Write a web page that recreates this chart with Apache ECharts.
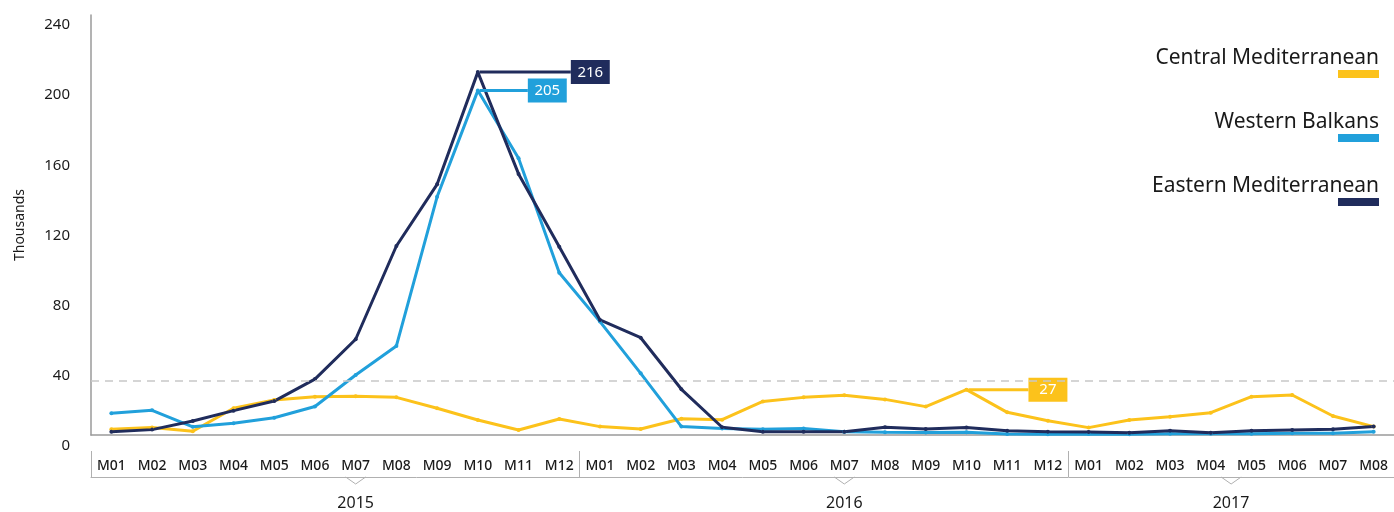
<!DOCTYPE html>
<html>
<head>
<meta charset="utf-8">
<script src="https://cdn.jsdelivr.net/npm/echarts@6/dist/echarts.min.js"></script>
<style>
  html, body { margin: 0; padding: 0; background: #fff; }
  #chart { width: 1394px; height: 512px; }
</style>
</head>
<body>
<div id="chart"></div>
<script>
// categories
var years = ['2015', '2016', '2017']
var monthsPerYear = [12, 12, 8]
var yTickLabels = [0, 40, 80, 120, 160, 200, 240]

// values, thousands
var centralMed = [3.4, 4.4, 2.2, 15.9, 20.8, 22.8, 23, 22.4, 15.9, 8.9, 3.0, 9.5,
  5.0, 3.6, 9.7, 9.1, 20.0, 22.4, 23.6, 21.2, 16.9, 27, 13.5, 8.5,
  4.4, 8.9, 10.9, 13.3, 22.8, 23.8, 11.3, 5.0]
var westernBalkans = [12.9, 14.7, 4.9, 7.0, 10.3, 17, 35.7, 53, 141.8, 205, 164.7, 96.6,
  67.5, 36.7, 5.0, 3.8, 3.4, 3.8, 2.0, 1.6, 1.5, 1.6, 0.6, 0.5,
  0.6, 0.4, 0.8, 0.8, 0.8, 1.0, 1.0, 2.0]
var easternMed = [2.0, 3.2, 8.3, 14.5, 20.2, 33.3, 57, 112.5, 149.2, 216, 155.4, 112,
  68.5, 57.9, 27.2, 4.6, 2.0, 2.0, 2.0, 4.6, 3.6, 4.4, 2.6, 2.0,
  1.8, 1.4, 2.6, 1.4, 2.6, 3.0, 3.4, 5.0]
var refLine = 32

var months = []
var yearOf = []
var yearStart = []
years.forEach(function (y, k) {
  yearStart.push(months.length)
  for (var m = 1; m <= monthsPerYear[k]; m++) {
    months.push('M' + (m < 10 ? '0' : '') + m)
    yearOf.push(y)
  }
})

var colors = ['#fcc21b', '#21a0db', '#202c5c']
var names = ['Central Mediterranean', 'Western Balkans', 'Eastern Mediterranean']
var leaderLen = [60, 48, 91] // connector to the value box

function makeSeries(idx, values) {
  var maxI = values.indexOf(Math.max.apply(null, values))
  var data = values.map(function (v, i) {
    if (i !== maxI) return v
    var txt = String(Math.round(v))
    var padX = (39 - 8.6 * txt.length) / 2
    return {
      value: v,
      label: {
        show: true,
        position: 'right',
        distance: 0,
        formatter: '{l|}{b|' + txt + '}',
        rich: {
          l: { width: leaderLen[idx], height: 3, backgroundColor: colors[idx] },
          b: {
            backgroundColor: colors[idx], color: '#fff', fontSize: 15,
            fontFamily: 'Noto Sans', padding: [5, padX, 4, padX], lineHeight: 18
          }
        }
      }
    }
  })
  var s = {
    name: names[idx],
    type: 'line',
    xAxisIndex: 0,
    yAxisIndex: 0,
    data: data,
    symbol: 'circle',
    symbolSize: 4,
    showSymbol: true,
    itemStyle: { color: colors[idx] },
    lineStyle: { color: colors[idx], width: 3 },
    emphasis: { disabled: true }
  }
  if (idx === 0) {
    s.markLine = {
      silent: true,
      symbol: ['none', 'none'],
      label: { show: false },
      lineStyle: { color: '#c8c8c8', type: [8, 6], width: 1.5 },
      data: [{ yAxis: refLine }]
    }
  }
  return s
}

var legendRich = {
  n: { fontSize: 21, lineHeight: 23, width: 240, color: '#1a1a1a', align: 'right', fontFamily: 'Noto Sans' }
}
colors.forEach(function (c, i) {
  legendRich['b' + i] = { width: 41, height: 8, lineHeight: 8, fontSize: 1, backgroundColor: c, align: 'right' }
})

var chart = echarts.init(document.getElementById('chart'))
var option = {
  animation: false,
  textStyle: { fontFamily: 'Noto Sans' },
  legend: {
    data: names,
    orient: 'vertical',
    right: 10,
    top: 43,
    itemWidth: 0,
    itemHeight: 0,
    itemGap: 34,
    selectedMode: false,
    itemStyle: { opacity: 0 },
    formatter: function (name) {
      return '{n|' + name + '}\n{b' + names.indexOf(name) + '|}'
    },
    textStyle: { rich: legendRich }
  },
  grid: [
    { left: 91, right: -2, top: 15, bottom: 77 },
    { left: 91, right: -2, top: 25, bottom: 66 }
  ],
  xAxis: [
    {
      type: 'category',
      gridIndex: 0,
      data: months,
      boundaryGap: true,
      axisLine: { lineStyle: { color: '#9a9a9a', width: 1.5 } },
      axisTick: { show: false },
      axisLabel: { interval: 0, margin: 24, fontSize: 14, color: '#1a1a1a', fontWeight: 500 }
    },
    {
      type: 'category',
      gridIndex: 0,
      data: yearOf,
      position: 'bottom',
      offset: 42,
      boundaryGap: true,
      axisLine: { lineStyle: { color: '#b0b0b0', width: 1 } },
      axisTick: {
        show: true,
        inside: true,
        length: 26,
        interval: function (i) { return yearStart.indexOf(i) >= 0 },
        lineStyle: { color: '#b0b0b0', width: 1 }
      },
      axisLabel: {
        margin: 18,
        fontSize: 16,
        color: '#1a1a1a',
        interval: function (i) {
          var k = yearStart.length - 1
          while (k > 0 && yearStart[k] > i) k--
          return i === yearStart[k] + Math.floor(monthsPerYear[k] / 2)
        },
        formatter: function (v) {
          var k = years.indexOf(v)
          return monthsPerYear[k] % 2 === 0 && monthsPerYear[k] < 12 ? '{s|' + v + '}' : v
        },
        rich: { s: { fontSize: 16, color: '#1a1a1a', padding: [0, 41, 0, 0] } }
      }
    },
    { type: 'value', gridIndex: 1, show: false }
  ],
  yAxis: [
    {
      type: 'value',
      gridIndex: 0,
      min: 0,
      max: 250,
      name: 'Thousands',
      nameLocation: 'middle',
      nameRotate: 90,
      nameGap: 64,
      nameTextStyle: { fontSize: 14, color: '#1a1a1a' },
      axisLine: { show: true, lineStyle: { color: '#9a9a9a', width: 1.5 } },
      axisTick: { show: false },
      axisLabel: { show: false },
      splitLine: { show: false }
    },
    {
      type: 'value',
      gridIndex: 1,
      min: yTickLabels[0],
      max: yTickLabels[yTickLabels.length - 1],
      interval: yTickLabels[1] - yTickLabels[0],
      axisLine: { show: false },
      axisTick: { show: false },
      splitLine: { show: false },
      axisLabel: { margin: 21, fontSize: 15, color: '#1a1a1a' }
    }
  ],
  series: [
    makeSeries(0, centralMed),
    makeSeries(1, westernBalkans),
    makeSeries(2, easternMed)
  ]
}
chart.setOption(option)

// small notches on the year brackets
var bracketY = chart.convertToPixel({ yAxisIndex: 0 }, 0) + 42
var marks = []
years.forEach(function (y, k) {
  var half = monthsPerYear[k] / 2
  var a = chart.convertToPixel({ xAxisIndex: 0 }, yearStart[k] + Math.floor(half))
  var b = chart.convertToPixel({ xAxisIndex: 0 }, yearStart[k] + Math.ceil(half) - (monthsPerYear[k] < 12 ? 1 : 0))
  var cx = monthsPerYear[k] < 12 ? (a + b) / 2 : a
  marks.push({ type: 'line', shape: { x1: cx - 10, y1: bracketY, x2: cx + 10, y2: bracketY }, style: { stroke: '#fff', lineWidth: 2 }, silent: true })
  marks.push({ type: 'polyline', shape: { points: [[cx - 10, bracketY], [cx, bracketY + 7], [cx + 10, bracketY]] }, style: { stroke: '#b0b0b0', lineWidth: 1, fill: null }, silent: true })
})
chart.setOption({ graphic: marks })
</script>
</body>
</html>
